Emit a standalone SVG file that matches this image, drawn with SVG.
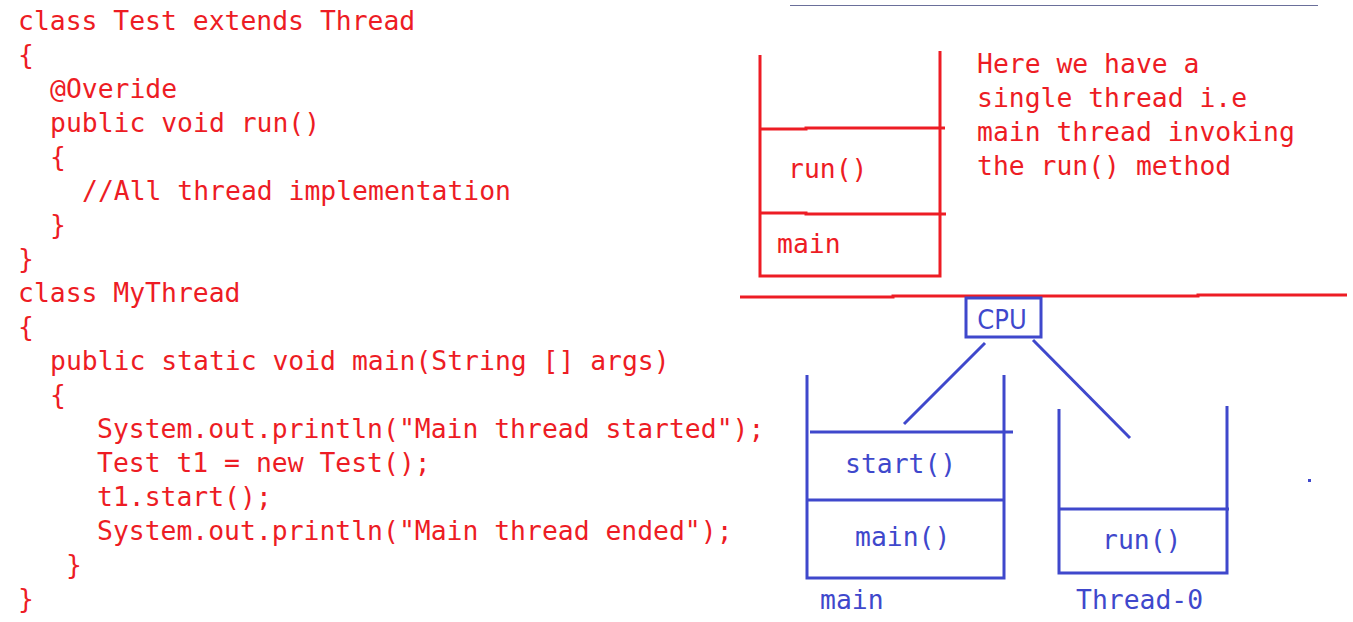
<svg xmlns="http://www.w3.org/2000/svg" width="1353" height="622" viewBox="0 0 1353 622">
<style>
.code{font-family:"DejaVu Sans Mono","Liberation Mono",monospace;font-size:26.4px}
.r{fill:#ED1C24}
.b{fill:#3F48CC}
.rl{stroke:#ED1C24;stroke-width:3;fill:none}
.bl{stroke:#3F48CC;stroke-width:3;fill:none}
</style>
<rect width="1353" height="622" fill="#ffffff"/>
<g id="code" class="code r">
<text x="18" y="30">class Test extends Thread</text>
<text x="18" y="64">{</text>
<text x="50" y="98">@Overide</text>
<text x="50" y="132">public void run()</text>
<text x="50" y="166">{</text>
<text x="82" y="200">//All thread implementation</text>
<text x="50" y="234">}</text>
<text x="18" y="268">}</text>
<text x="18" y="302">class MyThread</text>
<text x="18" y="336">{</text>
<text x="50" y="370">public static void main(String [] args)</text>
<text x="50" y="404">{</text>
<text x="97" y="438">System.out.println("Main thread started");</text>
<text x="97" y="472">Test t1 = new Test();</text>
<text x="97" y="506">t1.start();</text>
<text x="97" y="540">System.out.println("Main thread ended");</text>
<text x="66" y="574">}</text>
<text x="18" y="608">}</text>
</g>
<line x1="790" y1="5.5" x2="1318" y2="5.5" stroke="#6a6f9a" stroke-width="1"/>
<g id="single-stack">
<polyline class="rl" points="760,55 760,276 940,276 940,51"/>
<polyline class="rl" points="760,129 806,129 806,128 945,128"/>
<polyline class="rl" points="760,213 806,213 806,214 946,214"/>
<text class="code r" x="788" y="178">run()</text>
<text class="code r" x="777" y="253">main</text>
</g>
<g id="note" class="code r">
<text x="977" y="73">Here we have a</text>
<text x="977" y="107">single thread i.e</text>
<text x="977" y="141">main thread invoking</text>
<text x="977" y="175">the run() method</text>
</g>
<polyline id="divider" class="rl" points="740,297 893,297 893,296 1198,296 1198,295 1347,295"/>
<g id="cpu">
<rect class="bl" x="966" y="298" width="75" height="39"/>
<text class="b" x="1002" y="329" text-anchor="middle" style="font-family:'DejaVu Sans Condensed','Liberation Sans',sans-serif;font-size:27px">CPU</text>
</g>
<g id="main-stack">
<polyline class="bl" points="807,375 807,578 1004,578 1004,375"/>
<line class="bl" x1="810" y1="432" x2="1013" y2="432"/>
<line class="bl" x1="807" y1="500" x2="1004" y2="500"/>
<text class="code b" x="845" y="473">start()</text>
<text class="code b" x="855" y="546">main()</text>
<text class="code b" x="820" y="609">main</text>
</g>
<g id="thread0-stack">
<polyline class="bl" points="1059,409 1059,573 1227,573 1227,406"/>
<line class="bl" x1="1059" y1="509" x2="1229" y2="509"/>
<text class="code b" x="1102" y="549">run()</text>
<text class="code b" x="1076" y="609">Thread-0</text>
</g>
<g id="connectors">
<line class="bl" x1="985" y1="343" x2="904" y2="424"/>
<line class="bl" x1="1033" y1="340" x2="1130" y2="438"/>
</g>
<rect x="1308" y="479" width="3" height="3" fill="#3F48CC"/>
</svg>
